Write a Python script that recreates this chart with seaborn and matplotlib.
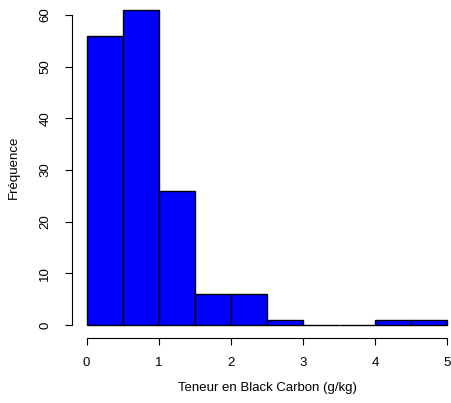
import matplotlib
matplotlib.use("Agg")
import matplotlib.pyplot as plt
import seaborn as sns
import numpy as np

# Histogram of black carbon content (g/kg), 0.5 g/kg classes
breaks = [0.0, 0.5, 1.0, 1.5, 2.0, 2.5, 3.0, 3.5, 4.0, 4.5, 5.0]
counts = [56, 61, 26, 6, 6, 1, 0, 0, 1, 1]
x_ticks = [0, 1, 2, 3, 4, 5]
y_ticks = [0, 10, 20, 30, 40, 50, 60]

sns.set_style("white")
plt.rcParams["font.family"] = ["Liberation Sans", "DejaVu Sans"]
plt.rcParams["text.color"] = "black"
plt.rcParams["axes.labelcolor"] = "black"
plt.rcParams["xtick.color"] = "black"
plt.rcParams["ytick.color"] = "black"

centers = [(a + b) / 2 for a, b in zip(breaks[:-1], breaks[1:])]

fig = plt.figure(figsize=(4.52, 4.03), dpi=100)
ax = fig.add_axes([0.1595, 0.1623, 0.8624, 0.8447])

sns.histplot(x=centers, weights=counts, bins=breaks, ax=ax,
             color="#0000FF", edgecolor="black", linewidth=1.0, alpha=1.0)

ax.set_xlim(-0.2, 5.2)
ax.set_ylim(-0.04 * 61, 61 * 1.04)

for s in ["top", "right"]:
    ax.spines[s].set_visible(False)
ax.spines["left"].set_bounds(0, 60)
ax.spines["bottom"].set_bounds(0, 5)
for s in ["left", "bottom"]:
    ax.spines[s].set_color("black")
    ax.spines[s].set_linewidth(0.8)

ax.set_xticks(x_ticks)
ax.set_yticks(y_ticks)
ax.set_xticklabels([str(v) for v in x_ticks])
ax.set_yticklabels([str(v) for v in y_ticks], rotation=90, va="center")
ax.tick_params(axis="both", direction="out", length=5, width=0.8,
               color="black", labelcolor="black", labelsize=9.5,
               bottom=True, left=True)
ax.tick_params(axis="x", pad=9)
ax.tick_params(axis="y", pad=10)

ax.set_xlabel("Teneur en Black Carbon (g/kg)", fontsize=9.5, labelpad=9)
ax.set_ylabel("Fréquence", fontsize=9.5, labelpad=14)

fig.savefig("out.png", dpi=100)
